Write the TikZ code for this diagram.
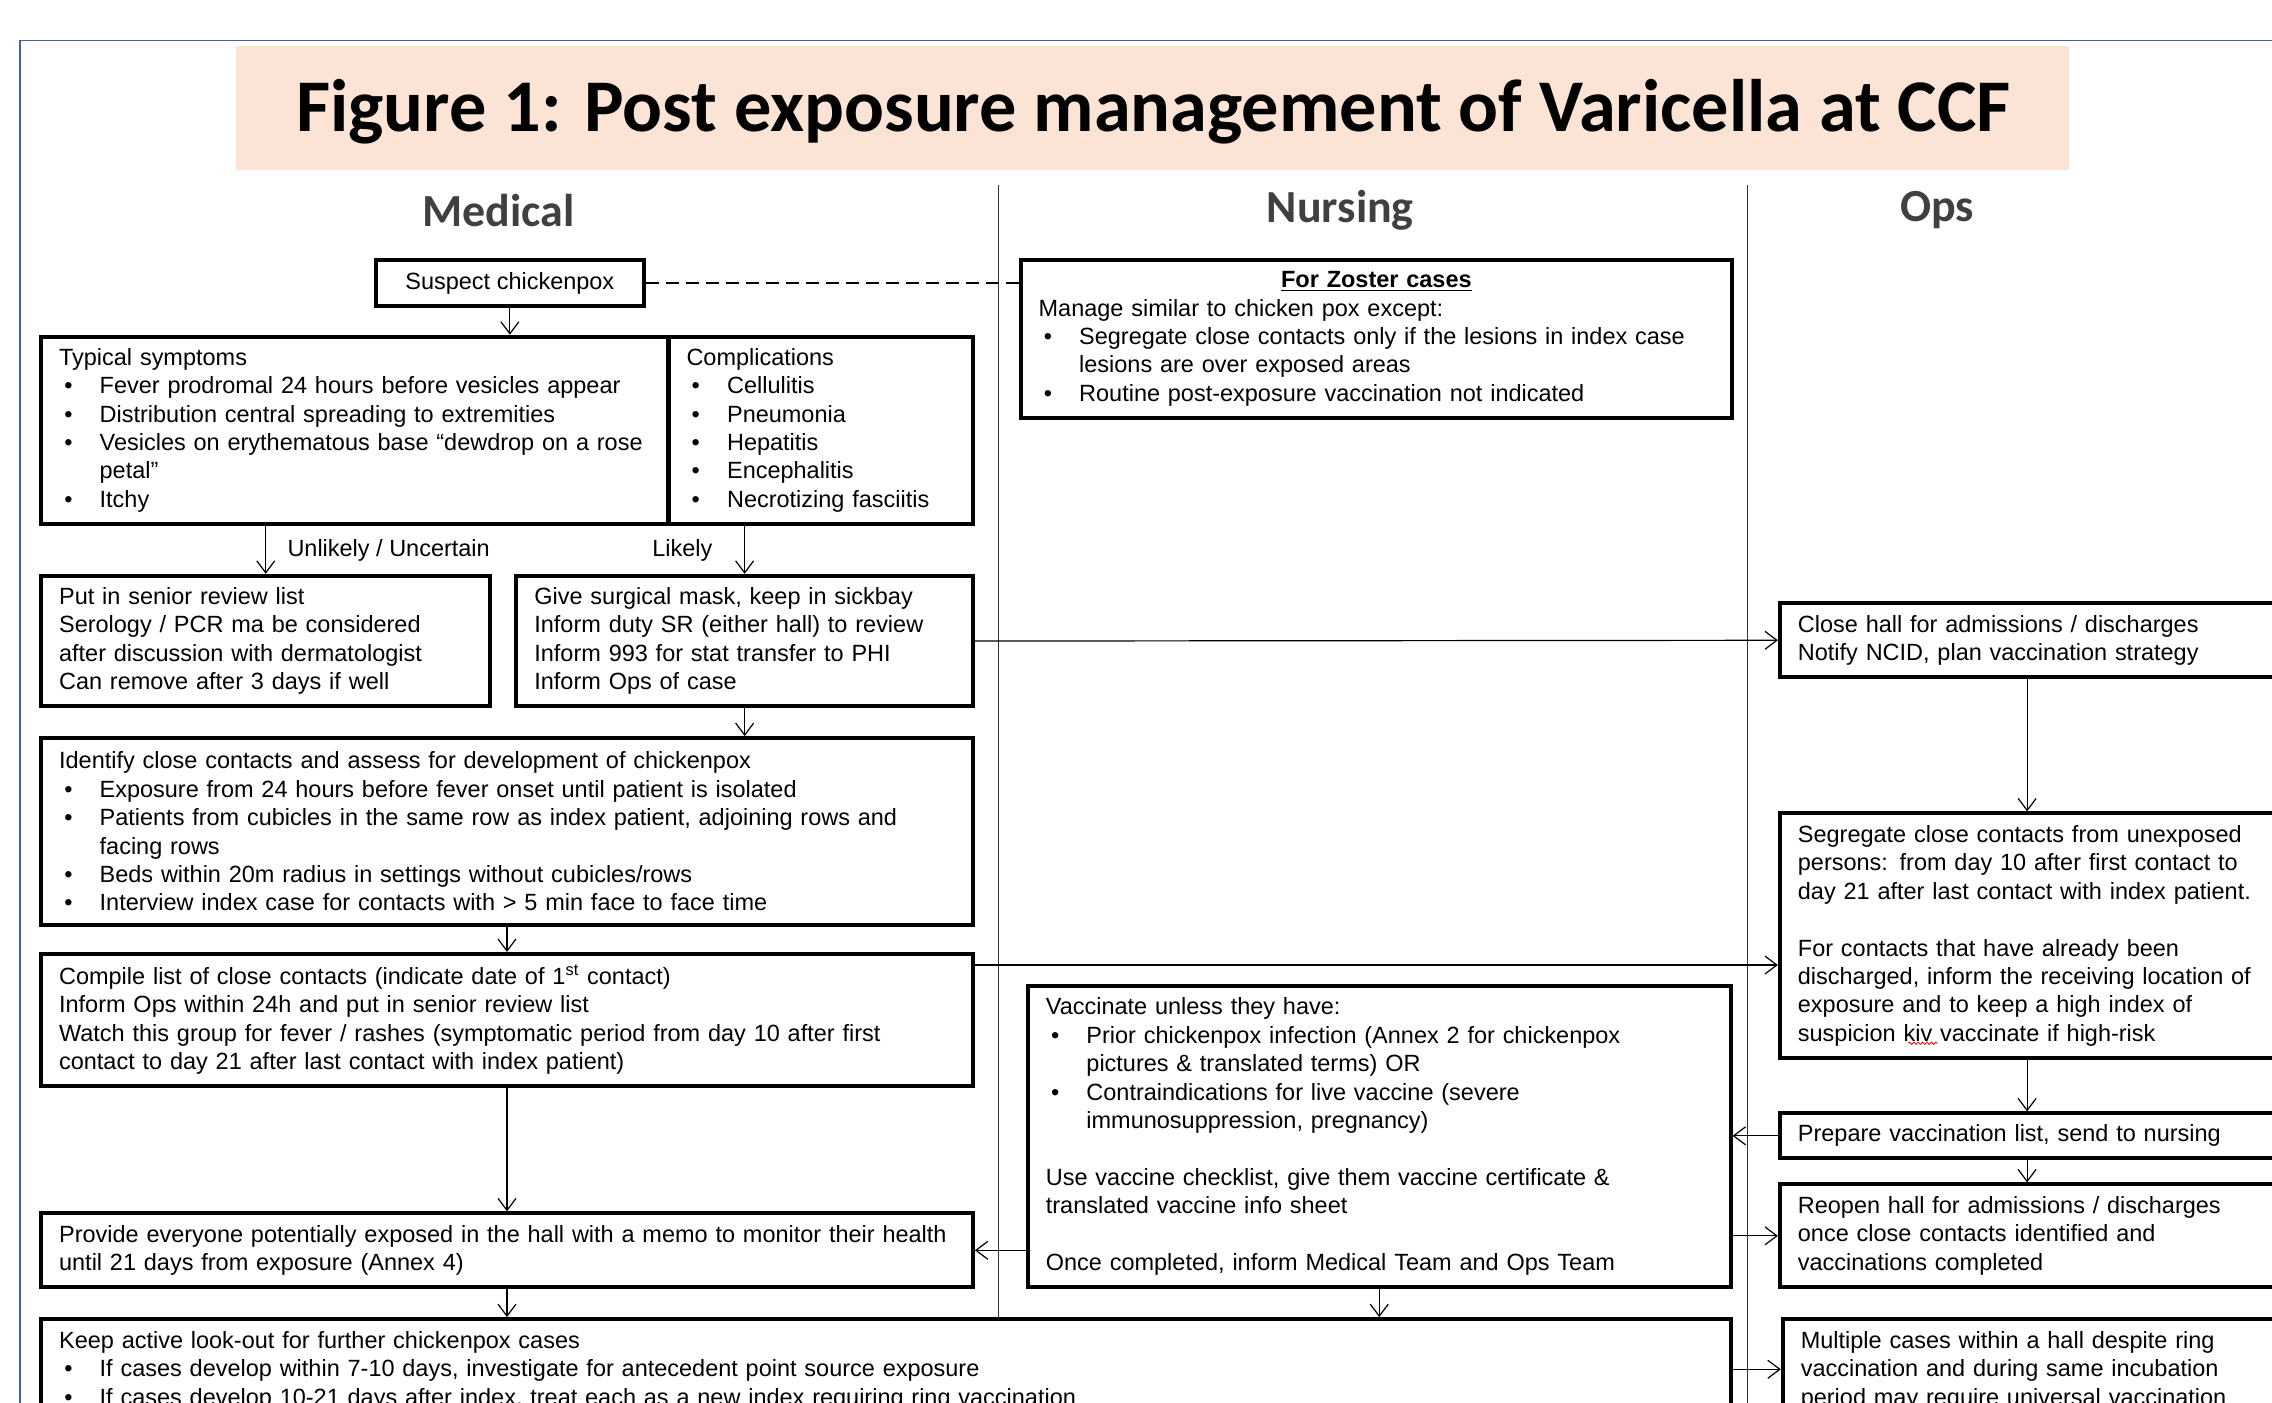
\documentclass[tikz,border=0pt]{standalone}
\usepackage{fontspec}
\setmainfont{Liberation Sans}
\newfontfamily\titlefont{Carlito}
\usetikzlibrary{arrows.meta,decorations.pathmorphing}

\definecolor{peach}{RGB}{251,228,213}
\definecolor{frameblue}{RGB}{70,95,160}

\newcommand\bul{\makebox[20.3pt][l]{\hspace{2.6pt}\textbullet}}
\newcommand\cont{\hspace*{20.3pt}}
\newcommand\bodyfont{\fontsize{11.75}{14.2}\selectfont}

\tikzset{
  flow/.style={draw, fill=white, line width=2pt, anchor=north west, inner xsep=9pt, inner ysep=1pt, align=left, font=\bodyfont},
  arr/.style={-{Straight Barb[length=6pt,width=9pt]}, line width=0.6pt},
  lane/.style={font=\titlefont\bfseries\fontsize{23}{26}\selectfont, text=black!75},
  lbl/.style={font=\bodyfont, inner sep=3pt},
}

\begin{document}
\begin{tikzpicture}[x=0.725pt, y=-0.725pt]
  \useasboundingbox (0,0) rectangle (1568,968);
  % cadre et titre
  \draw[frameblue, line width=0.8pt] (14,968) -- (14,28) -- (1568,28);
  \fill[peach] (163,32) rectangle (1428,117);
  \node[font=\titlefont\bfseries\fontsize{37.2}{41}\selectfont] (titre) at (796,77) {Figure 1: Post exposure management of Varicella at CCF};
  % couloirs
  \node[lane] (med) at (344,145) {Medical};
  \node[lane] (nurs) at (925,145) {Nursing};
  \node[lane] (ops) at (1337,145) {Ops};
  \draw[line width=0.5pt, black!80] (689,128) -- (689,968);
  \draw[line width=0.5pt, black!80] (1206,128) -- (1206,968);
  \coordinate (opsx) at (1399,0);
  \coordinate (cline) at (0,666);
  \coordinate (kline) at (0,945);
  % colonne Medical
  \node[flow, align=center, minimum width=134.1pt, minimum height=23.2pt] (susp) at (258,178) {Suspect chickenpox};
  \node[flow, minimum width=313.9pt, text width=295.9pt, minimum height=93.5pt] (typ) at (27,231) {Typical symptoms\\
    \bul Fever prodromal 24 hours before vesicles appear\\
    \bul Distribution central spreading to extremities\\
    \bul Vesicles on erythematous base “dewdrop on a rose\\
    \cont petal”\\
    \bul Itchy};
  \node[flow, minimum width=152.3pt, text width=134.3pt, minimum height=93.5pt] (comp) at (460,231) {Complications\\
    \bul Cellulitis\\
    \bul Pneumonia\\
    \bul Hepatitis\\
    \bul Encephalitis\\
    \bul Necrotizing fasciitis};
  \node[flow, minimum width=224.8pt, text width=206.8pt, minimum height=65.3pt] (senior) at (27,396) {Put in senior review list\\
    Serology / PCR ma be considered\\
    after discussion with dermatologist\\
    Can remove after 3 days if well};
  \node[flow, minimum width=228.4pt, text width=210.4pt, minimum height=65.3pt] (mask) at (355,396) {Give surgical mask, keep in sickbay\\
    Inform duty SR (either hall) to review\\
    Inform 993 for stat transfer to PHI\\
    Inform Ops of case};
  \node[flow, minimum width=466.2pt, text width=448.2pt, minimum height=93.5pt] (ident) at (27,508) {Identify close contacts and assess for development of chickenpox\\
    \bul Exposure from 24 hours before fever onset until patient is isolated\\
    \bul Patients from cubicles in the same row as index patient, adjoining rows and\\
    \cont facing rows\\
    \bul Beds within 20m radius in settings without cubicles/rows\\
    \bul Interview index case for contacts with > 5 min face to face time};
  \node[flow, minimum width=466.2pt, text width=448.2pt, minimum height=66pt] (compile) at (27,657) {Compile list of close contacts (indicate date of 1\textsuperscript{st} contact)\\
    Inform Ops within 24h and put in senior review list\\
    Watch this group for fever / rashes (symptomatic period from day 10 after first\\
    contact to day 21 after last contact with index patient)};
  \node[flow, minimum width=466.2pt, text width=448.2pt, minimum height=37pt] (provide) at (27,836) {Provide everyone potentially exposed in the hall with a memo to monitor their health\\
    until 21 days from exposure (Annex 4)};
  \node[flow, minimum width=845.4pt, text width=827.4pt, minimum height=51.5pt] (keep) at (27,909) {Keep active look-out for further chickenpox cases\\
    \bul If cases develop within 7-10 days, investigate for antecedent point source exposure\\
    \bul If cases develop 10-21 days after index, treat each as a new index requiring ring vaccination};
  % colonne Nursing
  \node[flow, minimum width=356pt, text width=338pt, minimum height=79pt] (zoster) at (703,178) {\makebox[338pt][c]{\bfseries\underline{For Zoster cases}}\\
    Manage similar to chicken pox except:\\
    \bul Segregate close contacts only if the lesions in index case\\
    \cont lesions are over exposed areas\\
    \bul Routine post-exposure vaccination not indicated};
  \node[flow, minimum width=351.6pt, text width=333.6pt, minimum height=150.8pt] (vacc) at (708,679) {Vaccinate unless they have:\\
    \bul Prior chickenpox infection (Annex 2 for chickenpox\\
    \cont pictures \& translated terms) OR\\
    \bul Contraindications for live vaccine (severe\\
    \cont immunosuppression, pregnancy)\\[14.2pt]
    Use vaccine checklist, give them vaccine certificate \&\\
    translated vaccine info sheet\\[14.2pt]
    Once completed, inform Medical Team and Ops Team};
  % colonne Ops
  \node[flow, minimum width=275.5pt, text width=257.5pt, minimum height=37pt] (close) at (1227,415) {Close hall for admissions / discharges\\
    Notify NCID, plan vaccination strategy};
  \node[flow, minimum width=275.5pt, text width=257.5pt, minimum height=122.5pt] (segr) at (1227,560) {Segregate close contacts from unexposed\\
    persons: from day 10 after first contact to\\
    day 21 after last contact with index patient.\\[14.2pt]
    For contacts that have already been\\
    discharged, inform the receiving location of\\
    exposure and to keep a high index of\\
    suspicion kiv vaccinate if high-risk};
  \node[flow, minimum width=275.5pt, text width=257.5pt, minimum height=22.5pt] (prep) at (1227,767) {Prepare vaccination list, send to nursing};
  \node[flow, minimum width=275.5pt, text width=257.5pt, minimum height=51.5pt] (reopen) at (1227,816) {Reopen hall for admissions / discharges\\
    once close contacts identified and\\
    vaccinations completed};
  \node[flow, minimum width=275.5pt, text width=257.5pt, minimum height=51.5pt] (multi) at (1229,909) {Multiple cases within a hall despite ring\\
    vaccination and during same incubation\\
    period may require universal vaccination};
  % soulignement rouge sous "kiv"
  \draw[red, line width=0.4pt, decorate, decoration={zigzag, amplitude=0.6pt, segment length=2.2pt}] (1317,720) -- (1337,720);
  % liaisons
  \draw[line width=0.6pt, dash pattern=on 6.5pt off 3.5pt] (susp.east) -- (susp.east -| zoster.west);
  \draw[arr] (susp.south) -- (susp.south |- typ.north);
  \draw[arr] (senior.north |- typ.south) -- (senior.north);
  \draw[arr] (mask.north |- comp.south) -- (mask.north);
  \node[lbl, anchor=west] (unl) at (194,380) {Unlikely / Uncertain};
  \node[lbl, anchor=east] (lik) at (496,380) {Likely};
  \draw[arr] (mask.south) -- (mask.south |- ident.north);
  \draw[arr] (mask.east) -- (close.west);
  \draw[arr] (ident.south) -- (compile.north);
  \draw[arr] (compile.east |- cline) -- (segr.west |- cline);
  \draw[arr] (compile.south) -- (provide.north);
  \draw[arr] (provide.south) -- (provide.south |- keep.north);
  \draw[arr] (vacc.west |- provide.east) -- (provide.east);
  \draw[arr] (vacc.south) -- (vacc.south |- keep.north);
  \draw[arr] (close.south -| opsx) -- (segr.north -| opsx);
  \draw[arr] (segr.south -| opsx) -- (prep.north -| opsx);
  \draw[arr] (prep.south -| opsx) -- (reopen.north -| opsx);
  \draw[arr] (prep.west) -- (prep.west -| vacc.east);
  \draw[arr] (reopen.west -| vacc.east) -- (reopen.west);
  \draw[arr] (keep.east |- kline) -- (multi.west |- kline);
\end{tikzpicture}
\end{document}
